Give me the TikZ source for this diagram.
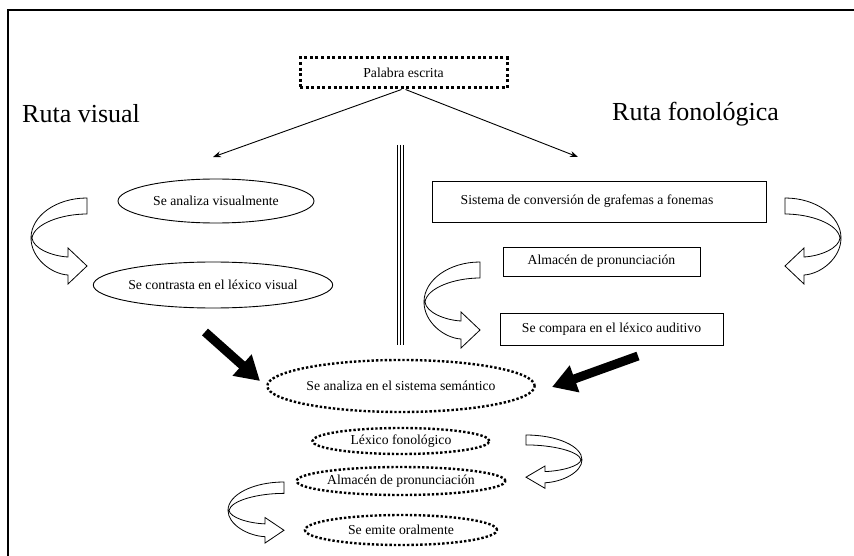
\documentclass[tikz,border=0pt]{standalone}
\usepackage{fontspec}
\setmainfont{Liberation Serif}
\usetikzlibrary{shapes.geometric,arrows.meta}
\begin{document}
\begin{tikzpicture}[x=1pt,y=-1pt,
  lbl/.style={font=\fontsize{13.7}{15}\selectfont},
  route/.style={font=\fontsize{26}{30}\selectfont, inner sep=0pt},
  oval/.style={ellipse, draw, line width=0.9pt, inner sep=0pt, lbl},
  dotoval/.style={ellipse, draw, line width=2.4pt, dash pattern=on 2.4pt off 2pt, inner sep=0pt, lbl},
  box/.style={rectangle, draw, line width=0.9pt, inner sep=0pt, lbl},
  dotbox/.style={rectangle, draw, line width=3pt, dash pattern=on 3pt off 2.6pt, inner sep=0pt, lbl},
  thin arrow/.style={line width=0.9pt, -{Stealth[length=8pt,width=6pt]}},
  bold arrow/.style={line width=9pt, -{Triangle[length=24pt,width=27pt]}},
  bend arrow/.pic={
    \draw[line width=0.8pt, fill=white, line join=miter]
      (56,0) .. controls (25,0) and (0,18) .. (0,40)
      .. controls (0,60) and (20,76) .. (37,77) -- (37,86) -- (56,68) -- (37,50) -- (37,59)
      .. controls (20,58) and (2,50) .. (1,40)
      .. controls (3,26) and (30,16) .. (56,16) -- cycle;
  }
]
\useasboundingbox (0,0) rectangle (854,556);
\fill[white] (0,0) rectangle (854,556);

% frame
\draw[line width=1.6pt] (8,556) -- (8,10) -- (854,10);

% source word
\node[dotbox, minimum width=207, minimum height=30] (pal) at (403.5,73) {Palabra escrita};
\coordinate (vis) at (213,157);
\coordinate (fon) at (578,157);
\draw[thin arrow] ([xshift=-2pt]pal.south) -- (vis);
\draw[thin arrow] ([xshift=2pt]pal.south) -- (fon);

% route titles
\node[route, anchor=west] (rv) at (22,114) {Ruta visual};
\node[route, anchor=west] (rf) at (612,114) {Ruta fonológica};

% central divider
\foreach \dx in {-3,0,3}
  \draw[line width=1.3pt] (400.5+\dx,145) -- (400.5+\dx,345);

% visual route
\node[oval, minimum width=196, minimum height=44] (v1) at (216,201) {Se analiza visualmente};
\node[oval, minimum width=230, minimum height=46] (v2) at (213,285) {Se contrasta en el léxico visual};

% phonological route
\node[box, minimum width=334, minimum height=41] (f1) at (599,201.5) {\hspace*{-24pt}\raisebox{3pt}{Sistema de conversión de grafemas a fonemas}};
\node[box, minimum width=197, minimum height=29] (f2) at (601.5,261.5) {Almacén de pronunciación};
\node[box, minimum width=223, minimum height=32] (f3) at (611.5,329) {Se compara en el léxico auditivo};

% common path
\node[dotoval, minimum width=248, minimum height=52] (s1) at (401,386) {Se analiza en el sistema semántico};
\node[dotoval, minimum width=177, minimum height=26] (s2) at (401,441) {Léxico fonológico};
\node[dotoval, minimum width=208, minimum height=28] (s3) at (401,481) {Almacén de pronunciación};
\node[dotoval, minimum width=192, minimum height=30] (s4) at (401,530) {Se emite oralmente};

% bold arrows into the semantic system
\coordinate (bl) at (205,332);
\coordinate (bt) at (260,381);
\coordinate (rl) at (638,356);
\coordinate (rt) at (552,387);
\draw[bold arrow] (bl) -- (bt);
\draw[bold arrow] (rl) -- (rt);

% curved block arrows
\pic[shift={(31,198)}] {bend arrow};
\pic[shift={(841,198)}, xscale=-1] {bend arrow};
\pic[shift={(424,262)}] {bend arrow};
\pic[shift={(582,435)}, xscale=-1, yscale=0.62] {bend arrow};
\pic[shift={(228,482)}, yscale=0.71] {bend arrow};
\end{tikzpicture}
\end{document}
